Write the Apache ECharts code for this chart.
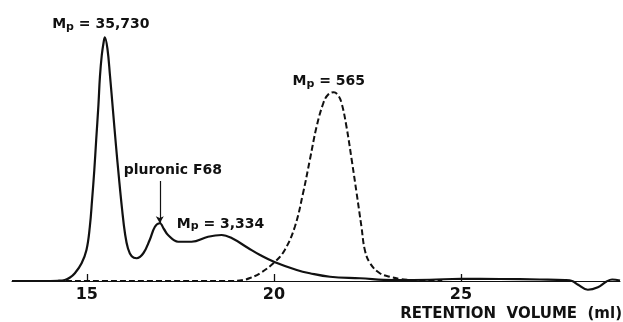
<!DOCTYPE html>
<html>
<head>
<meta charset="utf-8">
<style>
  html, body { margin: 0; padding: 0; background: #ffffff; }
  #chart { width: 623px; height: 322px; }
</style>
<script src="https://cdn.jsdelivr.net/npm/echarts@6.0.0/dist/echarts.min.js"></script>
</head>
<body>
<div id="chart"></div>
<script>
// GPC trace of the sample (solid) and of the low-MW standard (dashed)
// x: retention volume (ml), y: detector response (arbitrary units)
const sampleVolume = [
  13.0, 13.8, 14.22, 14.41, 14.55, 14.68, 14.86, 14.99, 15.08, 15.14,
  15.20, 15.25, 15.31, 15.35, 15.40, 15.45, 15.48, 15.55, 15.62, 15.70,
  15.78, 15.86, 15.94, 16.02, 16.10, 16.20, 16.33, 16.51, 16.68,
  16.82, 16.95, 17.06, 17.17, 17.44, 17.80, 18.24, 18.60, 18.87, 19.31,
  19.63, 20.03, 20.61, 20.96, 21.50, 22.30, 23.18, 24.17, 25.0, 26.04,
  27.11, 27.78, 27.97, 28.13, 28.39, 28.66, 28.88, 29.04, 29.25
];
const sampleResponse = [
  0, 0, 0.1, 0.4, 1.4, 3.1, 7.1, 12.4, 21.7, 32.4,
  44.4, 56.4, 70.4, 81.7, 90.4, 95.6, 97.5, 93.0, 82.0, 68.0,
  54.0, 41.0, 29.0, 19.0, 13.0, 9.9, 9.1, 11.1, 16.4,
  21.7, 23.1, 20.8, 18.4, 15.7, 15.7, 17.7, 18.4, 17.2, 13.2,
  10.4, 7.5, 4.4, 3.1, 1.7, 1.1, 0.4, 0.5, 0.9, 0.8,
  0.6, 0.4, 0, -1.5, -3.5, -2.5, -0.3, 0.6, 0.2
];

const standardVolume = [
  13.0, 18.90, 19.18, 19.36, 19.63, 20.03, 20.29, 20.56, 20.78, 20.96,
  21.14, 21.32, 21.44, 21.60, 21.71, 21.81, 21.94, 22.08, 22.21, 22.34,
  22.43, 22.57, 22.83, 23.10, 23.37, 23.64, 24.04, 24.5
];
const standardResponse = [
  0, 0, 0.4, 1.2, 3.1, 7.7, 12.4, 21.7, 35.2, 48.4,
  61.7, 71.1, 74.4, 75.5, 74.4, 71.1, 61.7, 48.4, 35.2, 21.7,
  12.4, 7.1, 3.1, 1.7, 0.8, 0.4, 0, 0
];

const tickValues = [15, 20, 25];
const axisTitle = 'RETENTION  VOLUME  (ml)';

// annotated points: [volume, response]
const mainPeak = [15.48, 97.5];
const shoulderPeak = [18.60, 18.4];
const pluronicPeak = [16.95, 23.1];
const standardPeak = [21.60, 75.5];
const pluronicArrowTop = 40;

const INK = '#111111';
const FONT = 'DejaVu Sans';

const pairs = (xs, ys) => xs.map((x, i) => [x, ys[i]]);

const mpRich = {
  m: { fontFamily: FONT, fontWeight: 'bold', fontSize: 14, color: INK },
  sub: { fontFamily: FONT, fontWeight: 'bold', fontSize: 11, color: INK, padding: [5, 0, 0, 0] }
};
const mpLabel = (value, offset) => ({
  show: true,
  position: 'inside',
  offset: offset,
  formatter: '{m|M}{sub|p}{m| = ' + value + '}',
  rich: mpRich
});

const chart = echarts.init(document.getElementById('chart'), null, { renderer: 'canvas' });

chart.setOption({
  backgroundColor: '#ffffff',
  animation: false,
  grid: { left: 12, right: 3, top: 31, bottom: 41, outerBoundsMode: 'none', containLabel: false },
  xAxis: {
    type: 'value',
    min: 13,
    max: 29.25,
    axisLine: { show: true, onZero: false, lineStyle: { color: INK, width: 1 } },
    axisTick: {
      show: true, inside: true, length: 7, customValues: tickValues,
      lineStyle: { color: INK, width: 1.3 }
    },
    axisLabel: {
      show: true, customValues: tickValues, margin: 6,
      color: INK, fontFamily: FONT, fontWeight: 'bold', fontSize: 16
    },
    splitLine: { show: false }
  },
  yAxis: {
    type: 'value',
    min: 0,
    max: 100,
    show: false,
    splitLine: { show: false }
  },
  graphic: [{
    type: 'text',
    right: 1,
    top: 307,
    style: {
      text: axisTitle,
      fill: INK,
      font: 'bold 15px "DejaVu Sans"'
    }
  }],
  series: [
    {
      name: 'standard',
      type: 'line',
      data: pairs(standardVolume, standardResponse),
      smooth: 0.4,
      clip: false,
      showSymbol: false,
      silent: true,
      z: 3,
      lineStyle: { color: INK, width: 2, type: [6, 3] },
      markPoint: {
        symbol: 'circle',
        symbolSize: 0,
        silent: true,
        data: [
          { coord: standardPeak, label: mpLabel('565', [-5, -11]) }
        ]
      }
    },
    {
      name: 'sample',
      type: 'line',
      data: pairs(sampleVolume, sampleResponse),
      smooth: 0.4,
      clip: false,
      showSymbol: false,
      silent: true,
      z: 4,
      lineStyle: { color: INK, width: 2.2 },
      markPoint: {
        symbol: 'circle',
        symbolSize: 0,
        silent: true,
        data: [
          { coord: mainPeak, label: mpLabel('35,730', [-4, -13]) },
          { coord: shoulderPeak, label: mpLabel('3,334', [-1, -11]) },
          {
            coord: [pluronicPeak[0], pluronicArrowTop],
            label: {
              show: true, position: 'inside', offset: [13, -11],
              formatter: 'pluronic F68',
              color: INK, fontFamily: FONT, fontWeight: 'bold', fontSize: 14
            }
          }
        ]
      },
      markLine: {
        silent: true,
        symbol: ['none', 'arrow'],
        symbolSize: [6, 7],
        label: { show: false },
        lineStyle: { color: INK, width: 1.2, type: 'solid' },
        data: [[
          { coord: [pluronicPeak[0], pluronicArrowTop] },
          { coord: pluronicPeak }
        ]]
      }
    }
  ]
});
</script>
</body>
</html>
